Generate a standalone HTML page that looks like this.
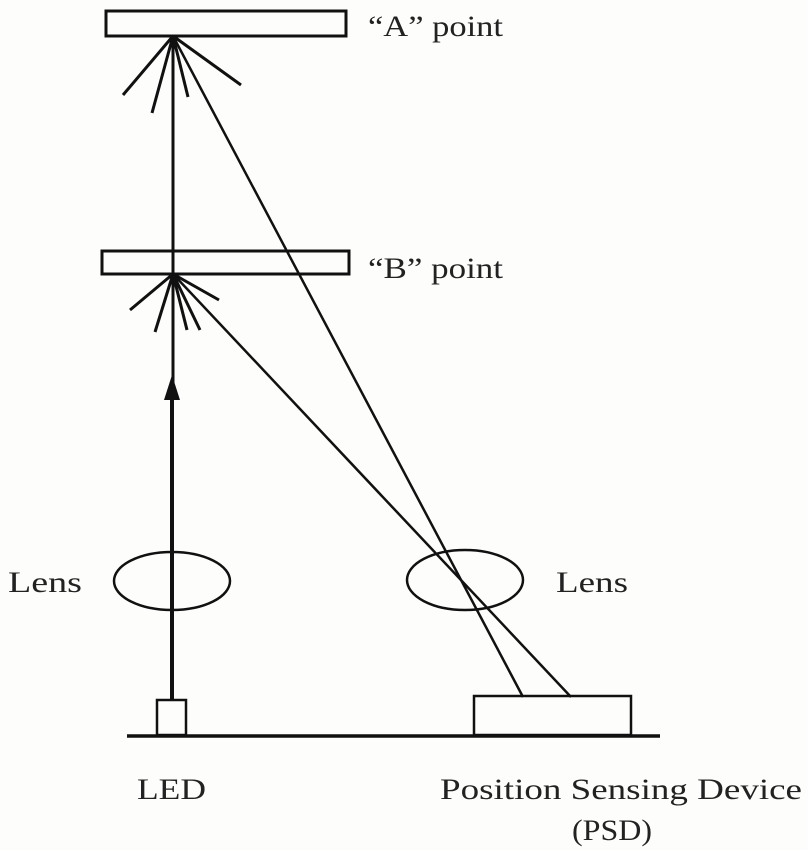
<!DOCTYPE html>
<html><head><meta charset="utf-8"><style>
html,body{margin:0;padding:0;background:#fdfdfb;}
svg{display:block}
text{font-family:"Liberation Serif",serif;fill:#222;font-size:30px}
</style></head><body>
<svg width="808" height="850" viewBox="0 0 808 850">
<g stroke="#111" fill="none" stroke-width="3">
<rect x="106" y="11" width="240" height="25"/>
<rect x="102" y="251" width="247" height="23"/>
<line x1="173" y1="36" x2="173" y2="395"/>
<line x1="172" y1="395" x2="172" y2="700" stroke-width="4"/>
<line x1="173" y1="36" x2="523" y2="697" stroke-width="2.5"/>
<line x1="173" y1="274" x2="571" y2="697" stroke-width="2.5"/>
<line x1="173" y1="36" x2="123" y2="95"/>
<line x1="173" y1="36" x2="152" y2="113"/>
<line x1="173" y1="36" x2="188" y2="97"/>
<line x1="173" y1="36" x2="241" y2="85"/>
<line x1="173" y1="274" x2="130" y2="310"/>
<line x1="173" y1="274" x2="155" y2="332"/>
<line x1="173" y1="274" x2="187" y2="330"/>
<line x1="173" y1="274" x2="200" y2="330"/>
<line x1="173" y1="274" x2="219" y2="300"/>
<ellipse cx="172" cy="581" rx="58" ry="29" stroke-width="2.5"/>
<ellipse cx="465" cy="580" rx="58" ry="30" stroke-width="2.5"/>
<rect x="157" y="700" width="29" height="35" stroke-width="2.5"/>
<rect x="474" y="696" width="157" height="39" stroke-width="2.5"/>
<line x1="127" y1="736" x2="660" y2="736" stroke-width="3.5"/>
</g>
<polygon points="172,375 164,400 180,400" fill="#111"/>
<text x="368" y="36" textLength="135" lengthAdjust="spacingAndGlyphs">“A” point</text>
<text x="368" y="278" textLength="135" lengthAdjust="spacingAndGlyphs">“B” point</text>
<text x="8" y="592" textLength="74" lengthAdjust="spacingAndGlyphs">Lens</text>
<text x="556" y="592" textLength="72" lengthAdjust="spacingAndGlyphs">Lens</text>
<text x="137" y="799" textLength="69" lengthAdjust="spacingAndGlyphs">LED</text>
<text x="440" y="799" textLength="362" lengthAdjust="spacingAndGlyphs">Position Sensing Device</text>
<text x="572" y="840" textLength="80" lengthAdjust="spacingAndGlyphs">(PSD)</text>
</svg>
</body></html>
